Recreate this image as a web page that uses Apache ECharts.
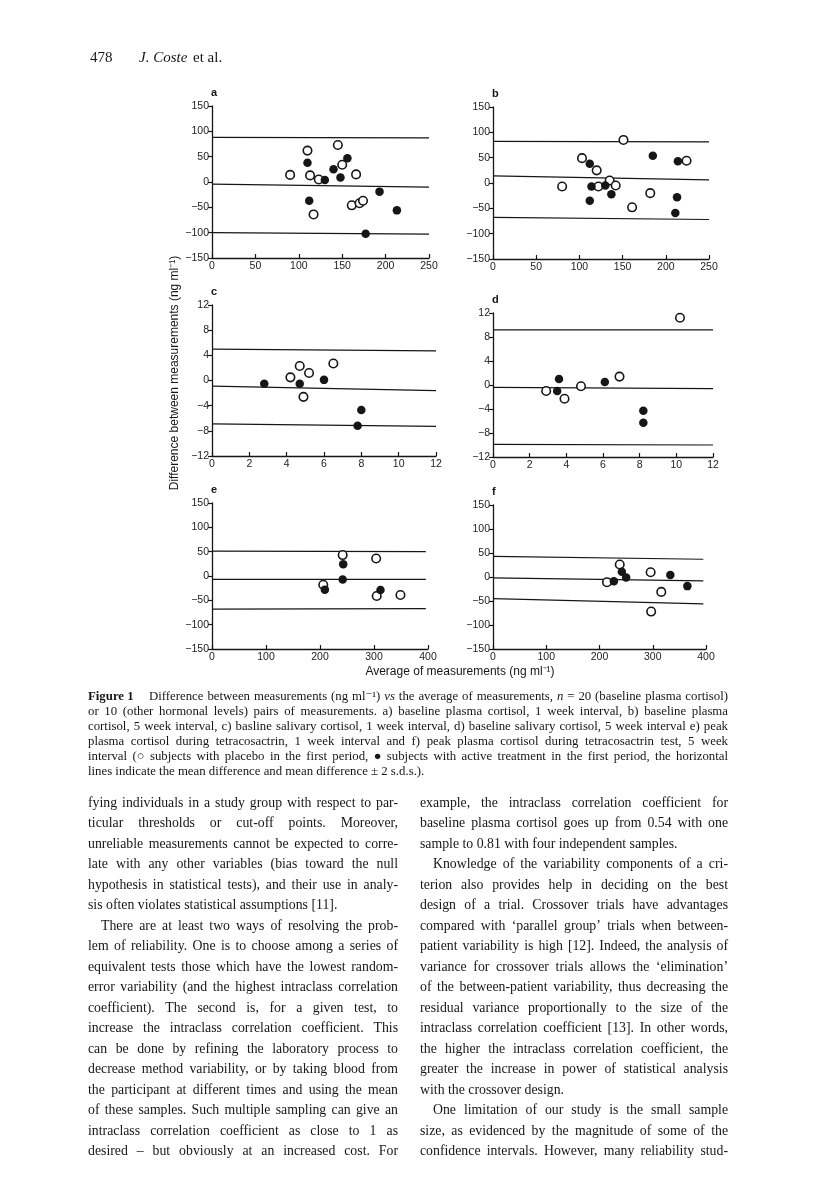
<!DOCTYPE html>
<html>
<head>
<meta charset="utf-8">
<script src="https://cdn.jsdelivr.net/npm/echarts@6/dist/echarts.min.js"></script>
<style>
  html, body { margin: 0; padding: 0; background: #fff; }
  #chart { width: 816px; height: 1177px; }
</style>
</head>
<body>
<div id="chart"></div>
<script>
// tick values for the axes
const xTicksAB = [0, 50, 100, 150, 200, 250];
const xTicksCD = [0, 2, 4, 6, 8, 10, 12];
const xTicksEF = [0, 100, 200, 300, 400];
const yTicksPlasma = [-150, -100, -50, 0, 50, 100, 150];
const yTicksSaliva = [-12, -8, -4, 0, 4, 8, 12];

// a) baseline plasma cortisol, 1 week
const aOpen = [[90, 14], [110, 62], [113, 13], [123, 5], [145, 73], [150, 34], [166, 15], [161, -46], [170, -42], [174, -37], [117, -64]];
const aFilled = [[110, 38], [112, -37], [130, 4], [140, 25], [148, 9], [156, 47], [193, -19], [213, -56], [177, -102]];
const aUpper = [[0, 88], [250, 87]];
const aMean = [[0, -4], [250, -10]];
const aLower = [[0, -100], [250, -103]];

// b) baseline plasma cortisol, 5 weeks
const bOpen = [[80, -7], [103, 49], [120, 25], [122, -7], [135, 5], [142, -5], [151, 85], [161, -48], [182, -20], [224, 44]];
const bFilled = [[112, 38], [114, -7], [112, -35], [130, -5], [137, -22], [185, 54], [214, 43], [213, -28], [211, -59]];
const bUpper = [[0, 82], [250, 81]];
const bMean = [[0, 14], [250, 6]];
const bLower = [[0, -68], [250, -72]];

// c) salivary cortisol, 1 week
const cOpen = [[4.2, 0.5], [4.7, 2.3], [5.2, 1.2], [6.5, 2.7], [4.9, -2.6]];
const cFilled = [[2.8, -0.5], [4.7, -0.5], [6.0, 0.1], [8.0, -4.7], [7.8, -7.2]];
const cUpper = [[0, 5.0], [12, 4.7]];
const cMean = [[0, -0.9], [12, -1.6]];
const cLower = [[0, -6.9], [12, -7.3]];

// d) salivary cortisol, 5 weeks
const dOpen = [[2.9, -1.0], [3.9, -2.3], [4.8, -0.2], [6.9, 1.4], [10.2, 11.2]];
const dFilled = [[3.6, 1.0], [3.5, -1.0], [6.1, 0.5], [8.2, -4.3], [8.2, -6.3]];
const dUpper = [[0, 9.2], [12, 9.2]];
const dMean = [[0, -0.4], [12, -0.6]];
const dLower = [[0, -9.9], [12, -10]];

// e) peak plasma cortisol, 1 week
const eOpen = [[206, -18], [242, 43], [304, 36], [305, -41], [349, -39]];
const eFilled = [[209, -28], [243, 24], [242, -7], [312, -29]];
const eUpper = [[0, 51], [396, 50]];
const eMean = [[0, -7], [396, -7]];
const eLower = [[0, -68], [396, -67]];

// f) peak plasma cortisol, 5 weeks
const fOpen = [[214, -11], [238, 26], [296, 10], [316, -31], [297, -72]];
const fFilled = [[227, -9], [242, 11], [250, -1], [333, 4], [365, -19]];
const fUpper = [[0, 43], [395, 37]];
const fMean = [[0, -2], [395, -8]];
const fLower = [[0, -45], [395, -56]];

const panels = [
  { letter: 'a', xt: xTicksAB, yt: yTicksPlasma, open: aOpen, filled: aFilled, lines: [aUpper, aMean, aLower], box: [212, 106, 217, 152] },
  { letter: 'b', xt: xTicksAB, yt: yTicksPlasma, open: bOpen, filled: bFilled, lines: [bUpper, bMean, bLower], box: [493, 107, 216, 152] },
  { letter: 'c', xt: xTicksCD, yt: yTicksSaliva, open: cOpen, filled: cFilled, lines: [cUpper, cMean, cLower], box: [212, 305, 224, 151] },
  { letter: 'd', xt: xTicksCD, yt: yTicksSaliva, open: dOpen, filled: dFilled, lines: [dUpper, dMean, dLower], box: [493, 313, 220, 144] },
  { letter: 'e', xt: xTicksEF, yt: yTicksPlasma, open: eOpen, filled: eFilled, lines: [eUpper, eMean, eLower], box: [212, 503, 216, 146] },
  { letter: 'f', xt: xTicksEF, yt: yTicksPlasma, open: fOpen, filled: fFilled, lines: [fUpper, fMean, fLower], box: [493, 505, 213, 144] }
];

const captionLines = [
  'Difference between measurements (ng ml⁻¹) _vs_ the average of measurements, _n_ = 20 (baseline plasma cortisol)',
  'or 10 (other hormonal levels) pairs of measurements. a) baseline plasma cortisol, 1 week interval, b) baseline plasma',
  'cortisol, 5 week interval, c) basline salivary cortisol, 1 week interval, d) baseline salivary cortisol, 5 week interval e) peak',
  'plasma cortisol during tetracosactrin, 1 week interval and f) peak plasma cortisol during tetracosactrin test, 5 week',
  'interval (○ subjects with placebo in the first period, ● subjects with active treatment in the first period, the horizontal',
  'lines indicate the mean difference and mean difference ± 2 s.d.s.).|'
];

// ">" = indented first line, "|" = last line of paragraph
const leftCol = [
  'fying individuals in a study group with respect to par-',
  'ticular thresholds or cut-off points. Moreover,',
  'unreliable measurements cannot be expected to corre-',
  'late with any other variables (bias toward the null',
  'hypothesis in statistical tests), and their use in analy-',
  'sis often violates statistical assumptions [11].|',
  '>There are at least two ways of resolving the prob-',
  'lem of reliability. One is to choose among a series of',
  'equivalent tests those which have the lowest random-',
  'error variability (and the highest intraclass correlation',
  'coefficient). The second is, for a given test, to',
  'increase the intraclass correlation coefficient. This',
  'can be done by refining the laboratory process to',
  'decrease method variability, or by taking blood from',
  'the participant at different times and using the mean',
  'of these samples. Such multiple sampling can give an',
  'intraclass correlation coefficient as close to 1 as',
  'desired – but obviously at an increased cost. For'
];
const rightCol = [
  'example, the intraclass correlation coefficient for',
  'baseline plasma cortisol goes up from 0.54 with one',
  'sample to 0.81 with four independent samples.|',
  '>Knowledge of the variability components of a cri-',
  'terion also provides help in deciding on the best',
  'design of a trial. Crossover trials have advantages',
  'compared with ‘parallel group’ trials when between-',
  'patient variability is high [12]. Indeed, the analysis of',
  'variance for crossover trials allows the ‘elimination’',
  'of the between-patient variability, thus decreasing the',
  'residual variance proportionally to the size of the',
  'intraclass correlation coefficient [13]. In other words,',
  'the higher the intraclass correlation coefficient, the',
  'greater the increase in power of statistical analysis',
  'with the crossover design.|',
  '>One limitation of our study is the small sample',
  'size, as evidenced by the magnitude of some of the',
  'confidence intervals. However, many reliability stud-'
];

const INK = '#161616';
const SERIF = '"Liberation Serif", "DejaVu Serif", serif';
const SANS = '"Liberation Sans", Arial, sans-serif';
const ctx = document.createElement('canvas').getContext('2d');

// lay out one justified line word by word
function textLine(raw, x, y, width, size) {
  let str = raw, indent = 0, justify = true;
  if (str.startsWith('>')) { str = str.slice(1); indent = 13; }
  if (str.endsWith('|')) { str = str.slice(0, -1); justify = false; }
  const words = str.split(' ').filter(t => t.length).map(t => {
    let style = 'normal', text = t;
    if (t.length > 2 && t.startsWith('_') && t.endsWith('_')) { style = 'italic'; text = t.slice(1, -1); }
    const font = style + ' normal ' + size + 'px ' + SERIF;
    ctx.font = font;
    return { text, font, w: ctx.measureText(text).width };
  });
  ctx.font = size + 'px ' + SERIF;
  const space = ctx.measureText(' ').width;
  const total = words.reduce((s, w) => s + w.w, 0);
  let gap = space;
  if (justify && words.length > 1) gap = Math.max(2, (width - indent - total) / (words.length - 1));
  let cx = x + indent;
  return words.map(w => {
    const el = { type: 'text', x: cx, y: y, silent: true,
      style: { text: w.text, font: w.font, fill: INK, textAlign: 'left', textVerticalAlign: 'middle' } };
    cx += w.w + gap;
    return el;
  });
}

function fmtTick(v) { return String(v).replace('-', '\u2212'); }

const grid = [], xAxis = [], yAxis = [], series = [], graphic = [];

panels.forEach((p, i) => {
  grid.push({ left: p.box[0], top: p.box[1], width: p.box[2], height: p.box[3] });
  const axisCommon = {
    gridIndex: i, type: 'value', splitLine: { show: false },
    axisLine: { onZero: false, lineStyle: { color: INK, width: 1.3 } },
    axisLabel: { fontSize: 10.5, color: '#222', fontFamily: SANS, formatter: fmtTick }
  };
  xAxis.push(Object.assign({}, axisCommon, {
    min: p.xt[0], max: p.xt[p.xt.length - 1], interval: p.xt[1] - p.xt[0],
    axisTick: { inside: true, length: 4, lineStyle: { color: INK, width: 1.2 } },
    axisLabel: Object.assign({}, axisCommon.axisLabel, { margin: 3 })
  }));
  yAxis.push(Object.assign({}, axisCommon, {
    min: p.yt[0], max: p.yt[p.yt.length - 1], interval: p.yt[1] - p.yt[0],
    axisTick: { inside: false, length: 4, lineStyle: { color: INK, width: 1.2 } },
    axisLabel: Object.assign({}, axisCommon.axisLabel, { margin: 3 })
  }));
  p.lines.forEach(l => series.push({
    type: 'line', xAxisIndex: i, yAxisIndex: i, data: l, symbol: 'none', silent: true, z: 2,
    lineStyle: { color: INK, width: 1.2 }
  }));
  series.push({
    type: 'scatter', xAxisIndex: i, yAxisIndex: i, data: p.open, symbolSize: 8.5, z: 3,
    itemStyle: { color: '#fff', borderColor: INK, borderWidth: 1.6, opacity: 1 }
  });
  series.push({
    type: 'scatter', xAxisIndex: i, yAxisIndex: i, data: p.filled, symbolSize: 8.5, z: 4,
    itemStyle: { color: INK, opacity: 1 }
  });
  graphic.push({ type: 'text', x: p.box[0] - 1, y: p.box[1] - 13, silent: true,
    style: { text: p.letter, font: 'bold 11px ' + SANS, fill: INK, textVerticalAlign: 'middle' } });
});

// axis titles
graphic.push({ type: 'text', x: 175, y: 373, rotation: Math.PI / 2, silent: true,
  style: { text: 'Difference between measurements (ng ml⁻¹)', font: '12px ' + SANS, fill: INK,
    textAlign: 'center', textVerticalAlign: 'middle' } });
graphic.push({ type: 'text', x: 460, y: 672, silent: true,
  style: { text: 'Average of measurements (ng ml⁻¹)', font: '12px ' + SANS, fill: INK,
    textAlign: 'center', textVerticalAlign: 'middle' } });

// running head
graphic.push({ type: 'text', x: 90, y: 58, silent: true,
  style: { text: '478', font: '15px ' + SERIF, fill: INK, textVerticalAlign: 'middle' } });
graphic.push({ type: 'text', x: 139, y: 58, silent: true,
  style: { text: 'J. Coste', font: 'italic 15px ' + SERIF, fill: INK, textVerticalAlign: 'middle' } });
graphic.push({ type: 'text', x: 193, y: 58, silent: true,
  style: { text: 'et al.', font: '15px ' + SERIF, fill: INK, textVerticalAlign: 'middle' } });

// caption
graphic.push({ type: 'text', x: 88, y: 697, silent: true,
  style: { text: 'Figure 1', font: 'bold 12.8px ' + SERIF, fill: INK, textVerticalAlign: 'middle' } });
captionLines.forEach((l, i) => {
  const x = i === 0 ? 149 : 88;
  textLine(l, x, 697 + i * 15, 728 - x, 12.8).forEach(e => graphic.push(e));
});

// body columns
leftCol.forEach((l, i) => textLine(l, 88, 803 + i * 20.5, 310, 13.8).forEach(e => graphic.push(e)));
rightCol.forEach((l, i) => textLine(l, 420, 803 + i * 20.5, 308, 13.8).forEach(e => graphic.push(e)));

const chart = echarts.init(document.getElementById('chart'), null, { renderer: 'canvas' });
chart.setOption({
  backgroundColor: '#fff',
  animation: false,
  grid, xAxis, yAxis, series, graphic
});
</script>
</body>
</html>
